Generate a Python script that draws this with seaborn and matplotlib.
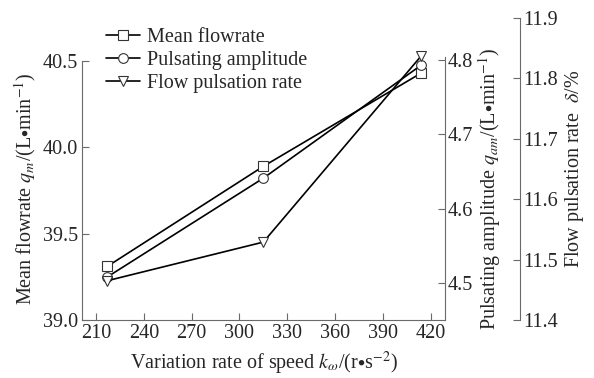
import matplotlib
matplotlib.use("Agg")
import matplotlib.pyplot as plt
import seaborn as sns
import pandas as pd
from matplotlib.lines import Line2D

# ---- data ----
speed_rate = [217, 315, 414]
mean_flowrate = [39.31, 39.89, 40.43]
pulsating_amplitude = [4.508, 4.641, 4.793]
flow_pulsation_rate = [11.465, 11.529, 11.837]
x_ticks = [210, 240, 270, 300, 330, 360, 390, 420]
left_ticks = [39.0, 39.5, 40.0, 40.5]
amp_ticks = [4.5, 4.6, 4.7, 4.8]
rate_ticks = [11.4, 11.5, 11.6, 11.7, 11.8, 11.9]
labels = ["Mean flowrate", "Pulsating amplitude", "Flow pulsation rate"]

sns.set_style("ticks")
plt.rcParams["font.family"] = ["Liberation Serif", "DejaVu Serif"]
plt.rcParams["mathtext.fontset"] = "stix"
FS = 14.5
plt.rcParams["font.size"] = FS

W, H = 594, 378
fig = plt.figure(figsize=(W / 100, H / 100), dpi=100)

left_px, right_px, bottom_px, top_px = 82, 445, 320, 57
ax = fig.add_axes([left_px / W, 1 - bottom_px / H, (right_px - left_px) / W, (bottom_px - top_px) / H])
ax2 = ax.twinx()
top3_px = 18
ax3 = fig.add_axes([left_px / W, 1 - bottom_px / H, (right_px - left_px) / W, (bottom_px - top3_px) / H])
ax3.patch.set_visible(False)

df = pd.DataFrame({"x": speed_rate, "m": mean_flowrate, "a": pulsating_amplitude, "r": flow_pulsation_rate})

spine_col = "#6a6a6a"
kw = dict(color="black", linewidth=1.2, markerfacecolor="white", markeredgecolor="#333333",
          markeredgewidth=0.8, markersize=7)
sns.lineplot(data=df, x="x", y="m", ax=ax, marker="s", **kw)
sns.lineplot(data=df, x="x", y="a", ax=ax2, marker="o", **kw)
sns.lineplot(data=df, x="x", y="r", ax=ax3, marker="v", **kw)

xlim = (201.2, 429.0)
for a in (ax, ax2, ax3):
    a.set_xlim(*xlim)

ax.set_ylim(39.0, 40.5 + (61 - 57) / 172.0)
ax2.set_ylim(4.5 - (bottom_px - 283) / 743.0, 4.8 + (60 - top_px) / 743.0)
ax3.set_ylim(11.4, 11.9)

# main axes
ax.set_xticks(x_ticks)
ax.set_yticks(left_ticks)
ax.set_yticklabels([f"{v:.1f}" for v in left_ticks])
ax.tick_params(direction="in", length=5, color=spine_col, labelsize=FS, pad=3)
for s in ("top", "right"):
    ax.spines[s].set_visible(False)
for s in ("left", "bottom"):
    ax.spines[s].set_color(spine_col)
ax.spines["left"].set_bounds(39.0, 40.5)
ax.set_xlabel(r"Variation rate of speed $k_{\omega}$/(r$\bullet$s$^{-2}$)", fontsize=FS, labelpad=5)
ax.set_ylabel(r"Mean flowrate $q_m$/(L$\bullet$min$^{-1}$)", fontsize=FS, labelpad=3)

# amplitude axis
ax2.set_yticks(amp_ticks)
ax2.set_yticklabels([f"{v:.1f}" for v in amp_ticks])
ax2.tick_params(direction="in", length=5, color=spine_col, labelsize=FS, pad=2)
for s in ("top", "left", "bottom"):
    ax2.spines[s].set_visible(False)
ax2.spines["right"].set_color(spine_col)
ax2.set_ylabel(r"Pulsating amplitude $q_{am}$/(L$\bullet$min$^{-1}$)", fontsize=FS, labelpad=2)

# pulsation-rate axis
ax3.set_xticks([])
ax3.set_yticks(rate_ticks)
ax3.set_yticklabels([f"{v:.1f}" for v in rate_ticks])
ax3.yaxis.tick_right()
ax3.yaxis.set_label_position("right")
ax3.tick_params(direction="in", length=5, color=spine_col, labelsize=FS, pad=2)
for s in ("top", "left", "bottom"):
    ax3.spines[s].set_visible(False)
ax3.spines["right"].set_color(spine_col)
ax3.spines["right"].set_position(("outward", (520 - right_px) * 72 / 100))
ax3.set_ylabel(r"Flow pulsation rate  $\delta$/%", fontsize=FS, labelpad=4)
ax3.set_xlabel("")

for a in (ax, ax2, ax3):
    for l in a.lines:
        l.set_clip_on(False)

handles = [Line2D([], [], marker=m, **kw) for m in ("s", "o", "v")]
fig.legend(handles, labels, loc="upper left", bbox_to_anchor=(106 / W, 1 - 28 / H),
           frameon=False, fontsize=FS, handlelength=1.7, handletextpad=0.35,
           labelspacing=0.2, borderaxespad=0, borderpad=0)

fig.savefig("out.png", dpi=100)
